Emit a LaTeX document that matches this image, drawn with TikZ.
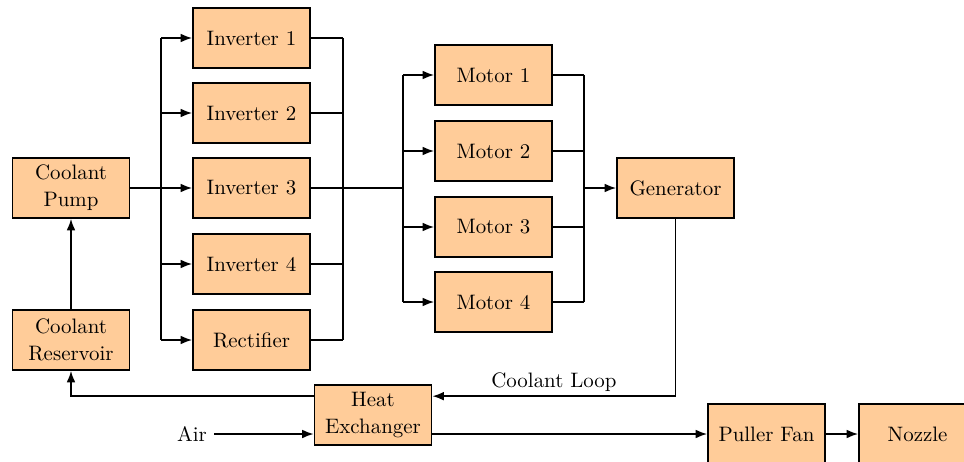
\documentclass[tikz,border=0pt]{standalone}
\usetikzlibrary{calc,arrows.meta}
\begin{document}
\begin{tikzpicture}[x=0.4785pt,y=-0.4785pt,
  block/.style={draw,thick,fill=orange!40,minimum width=56pt,minimum height=28.7pt,
    inner sep=2pt,align=center,font=\normalsize},
  conn/.style={thick},
  arr/.style={thick,-{Latex[length=5.5pt,width=4.2pt]}}]
\useasboundingbox (0,0) rectangle (964,462);

% blocks
\node[block] (pump) at (71,188) {Coolant\\[1pt]Pump};
\node[block] (res)  at (71,340) {Coolant\\[1pt]Reservoir};
\node[block] (inv1) at (251.5,38)  {Inverter 1};
\node[block] (inv2) at (251.5,113) {Inverter 2};
\node[block] (inv3) at (251.5,188) {Inverter 3};
\node[block] (inv4) at (251.5,264) {Inverter 4};
\node[block] (rect) at (251.5,340) {Rectifier};
\node[block] (m1) at (493.5,75)  {Motor 1};
\node[block] (m2) at (493.5,151) {Motor 2};
\node[block] (m3) at (493.5,227) {Motor 3};
\node[block] (m4) at (493.5,302) {Motor 4};
\node[block] (gen) at (675.5,188) {Generator};
\node[block] (hx)  at (373,415) {Heat\\[1pt]Exchanger};
\node[block] (fan) at (766.5,434) {Puller Fan};
\node[block] (noz) at (917.5,434) {Nozzle};
\node (air) at (192,434) {Air};

% bus junctions
\coordinate (lb) at (161,188);
\coordinate (rb) at (343,188);
\coordinate (mb) at (403,188);
\coordinate (gb) at (584,188);

% pump to inverters
\draw[conn] (pump.east) -- (lb);
\draw[conn] (lb |- inv1.west) -- (lb |- rect.west);
\foreach \n in {inv1,inv2,inv3,inv4,rect}
  \draw[arr] (lb |- \n.west) -- (\n.west);

% inverters to motors
\foreach \n in {inv1,inv2,inv3,inv4,rect}
  \draw[conn] (\n.east) -- (rb |- \n.east);
\draw[conn] (rb |- inv1.east) -- (rb |- rect.east);
\draw[conn] (rb) -- (mb);
\draw[conn] (mb |- m1.west) -- (mb |- m4.west);
\foreach \n in {m1,m2,m3,m4}
  \draw[arr] (mb |- \n.west) -- (\n.west);

% motors to generator
\foreach \n in {m1,m2,m3,m4}
  \draw[conn] (\n.east) -- (gb |- \n.east);
\draw[conn] (gb |- m1.east) -- (gb |- m4.east);
\draw[arr] (gb) -- (gen.west);

% coolant loop
\draw[arr] (gen.south) |- ($(hx.north east)+(0,12)$)
  node[pos=0.75,above,inner sep=2pt] {Coolant Loop};
\draw[arr] ($(hx.north west)+(0,12)$) -| (res.south);
\draw[arr] (res.north) -- (pump.south);

% air path
\draw[arr] (air.east) -- (air.east -| hx.west);
\draw[arr] (hx.east |- fan.west) -- (fan.west);
\draw[arr] (fan.east) -- (noz.west);
\end{tikzpicture}
\end{document}
